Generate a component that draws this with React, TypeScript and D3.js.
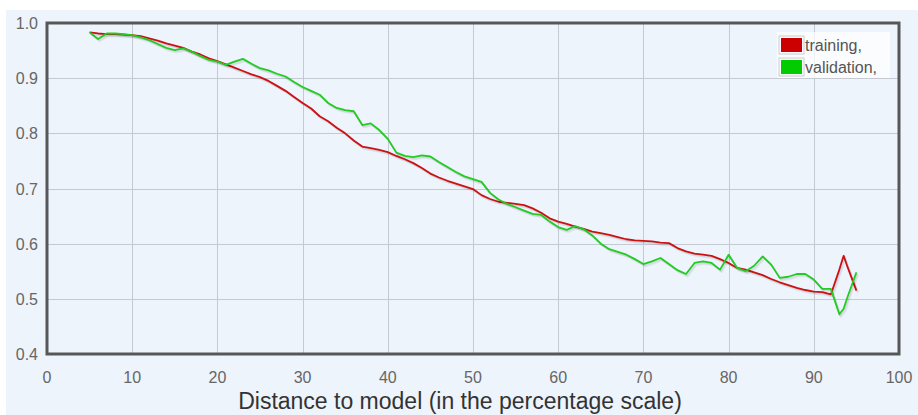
import * as d3 from "d3";
import React, { useEffect, useRef } from "react";

// distance to model (percentage scale)
const distances = [
  5, 6, 7, 8, 9, 10, 11, 12, 13, 14, 15, 16, 17, 18, 19, 20, 21, 22, 23, 24, 25, 26, 27, 28, 29, 30,
  31, 32, 33, 34, 35, 36, 37, 38, 39, 40, 41, 42, 43, 44, 45, 46, 47, 48, 49, 50, 51, 52, 53, 54, 55,
  56, 57, 58, 59, 60, 61, 62, 63, 64, 65, 66, 67, 68, 69, 70, 71, 72, 73, 74, 75, 76, 77, 78, 79, 80,
  81, 82, 83, 84, 85, 86, 87, 88, 89, 90, 91, 92, 93, 93.5, 94, 95,
];

const training = [
  0.983, 0.981, 0.98, 0.98, 0.979, 0.978, 0.976, 0.972, 0.968, 0.963, 0.959, 0.955, 0.948, 0.943,
  0.936, 0.931, 0.925, 0.919, 0.913, 0.907, 0.902, 0.895, 0.886, 0.877, 0.866, 0.855, 0.845, 0.831,
  0.822, 0.81, 0.8, 0.787, 0.776, 0.773, 0.77, 0.766, 0.759, 0.753, 0.746, 0.737, 0.727, 0.72, 0.714,
  0.709, 0.704, 0.699, 0.688, 0.681, 0.676, 0.674, 0.672, 0.67, 0.664, 0.656, 0.646, 0.64, 0.636,
  0.631, 0.627, 0.622, 0.619, 0.616, 0.612, 0.608, 0.606, 0.605, 0.604, 0.602, 0.601, 0.592, 0.586,
  0.582, 0.58, 0.578, 0.572, 0.565, 0.556, 0.553, 0.548, 0.543, 0.536, 0.53, 0.525, 0.52, 0.516,
  0.513, 0.512, 0.508, 0.553, 0.578, 0.556, 0.515,
];

const validation = [
  0.983, 0.971, 0.981, 0.981, 0.98, 0.978, 0.974, 0.969, 0.962, 0.955, 0.951, 0.954, 0.948, 0.94,
  0.933, 0.93, 0.924, 0.93, 0.935, 0.926, 0.918, 0.914, 0.908, 0.903, 0.893, 0.884, 0.877, 0.87,
  0.855, 0.846, 0.842, 0.84, 0.815, 0.818, 0.806, 0.79, 0.765, 0.759, 0.757, 0.76, 0.758, 0.748,
  0.739, 0.73, 0.722, 0.717, 0.712, 0.692, 0.68, 0.672, 0.666, 0.66, 0.654, 0.652, 0.64, 0.63, 0.625,
  0.632, 0.626, 0.615, 0.6, 0.59, 0.585, 0.58, 0.572, 0.563, 0.568, 0.574, 0.563, 0.552, 0.545, 0.565,
  0.568, 0.565, 0.553, 0.58, 0.556, 0.55, 0.56, 0.577, 0.562, 0.538, 0.54, 0.545, 0.545, 0.535, 0.518,
  0.518, 0.472, 0.482, 0.505, 0.548,
];

const seriesNames = ["training,", "validation,"];
const seriesColors = ["#cc1111", "#22cc22"];
const xTicks = [0, 10, 20, 30, 40, 50, 60, 70, 80, 90, 100];
const yTicks = [0.4, 0.5, 0.6, 0.7, 0.8, 0.9, 1.0];
const xTitle = "Distance to model (in the percentage scale)";

export default function App() {
  const ref = useRef<SVGSVGElement>(null);
  const width = 918;
  const height = 415;

  useEffect(() => {
    const svg = d3.select(ref.current);
    svg.selectAll("*").remove();

    const margin = { top: 23, right: 19, bottom: 61, left: 47 };
    const x = d3.scaleLinear([0, 100], [margin.left, width - margin.right]);
    const y = d3.scaleLinear([0.4, 1.0], [height - margin.bottom, margin.top]);
    const font = "'Liberation Sans', Arial, sans-serif";

    // panel background
    svg.append("rect").attr("x", 6).attr("y", 10).attr("width", width - 6).attr("height", height - 10).attr("fill", "#eef4fc");

    // grid
    const grid = svg.append("g").attr("stroke", "#c4c9d2").attr("stroke-width", 1);
    grid.selectAll("line.gx").data(xTicks).join("line")
      .attr("x1", (d) => Math.round(x(d)) + 0.5).attr("x2", (d) => Math.round(x(d)) + 0.5)
      .attr("y1", y(1.0)).attr("y2", y(0.4));
    grid.selectAll("line.gy").data(yTicks).join("line")
      .attr("y1", (d) => Math.round(y(d)) + 0.5).attr("y2", (d) => Math.round(y(d)) + 0.5)
      .attr("x1", x(0)).attr("x2", x(100));

    // axis tick labels
    svg.append("g").selectAll("text").data(xTicks).join("text")
      .attr("x", (d) => x(d)).attr("y", height - margin.bottom + 29)
      .attr("text-anchor", "middle").attr("font-family", font).attr("font-size", 16).attr("fill", "#666")
      .text((d) => d);
    svg.append("g").selectAll("text").data(yTicks).join("text")
      .attr("x", margin.left - 9).attr("y", (d) => y(d) + 6)
      .attr("text-anchor", "end").attr("font-family", font).attr("font-size", 16).attr("fill", "#666")
      .text((d) => d3.format(".1f")(d));

    svg.append("text").attr("x", 460).attr("y", 409).attr("text-anchor", "middle")
      .attr("font-family", font).attr("font-size", 23).attr("fill", "#333").text(xTitle);

    // lines with a soft shadow
    const line = d3.line<number>().x((_, i) => x(distances[i])).y((d) => y(d));
    const plot = svg.append("g");
    [training, validation].forEach((values, s) => {
      for (let k = 1; k <= 3; k++) {
        plot.append("path").attr("d", line(values)).attr("fill", "none")
          .attr("stroke", "#000").attr("stroke-opacity", 0.05).attr("stroke-width", 2)
          .attr("transform", `translate(${k * 0.6},${k * 0.8})`);
      }
      plot.append("path").attr("d", line(values)).attr("fill", "none")
        .attr("stroke", seriesColors[s]).attr("stroke-width", 1.8).attr("stroke-linejoin", "round");
    });

    // border
    svg.append("rect").attr("x", x(0)).attr("y", y(1.0)).attr("width", x(100) - x(0)).attr("height", y(0.4) - y(1.0))
      .attr("fill", "none").attr("stroke", "#575757").attr("stroke-width", 3);

    // legend
    const legend = svg.append("g");
    legend.append("rect").attr("x", 777).attr("y", 32).attr("width", 113).attr("height", 46)
      .attr("fill", "#fff").attr("fill-opacity", 0.7);
    seriesNames.forEach((name, i) => {
      const ly = 36 + i * 22;
      legend.append("rect").attr("x", 779).attr("y", ly).attr("width", 25).attr("height", 18)
        .attr("fill", "none").attr("stroke", "#ccc").attr("stroke-width", 1);
      legend.append("rect").attr("x", 781).attr("y", ly + 2).attr("width", 21).attr("height", 14)
        .attr("fill", i === 0 ? "#cc0000" : "#00cc00");
      legend.append("text").attr("x", 805).attr("y", ly + 15).attr("font-family", font)
        .attr("font-size", 16).attr("fill", "#555").text(name);
    });
  }, []);

  return (
    <svg ref={ref} width={width} height={height} style={{ position: "absolute", left: 0, top: 0 }}></svg>
  );
}
